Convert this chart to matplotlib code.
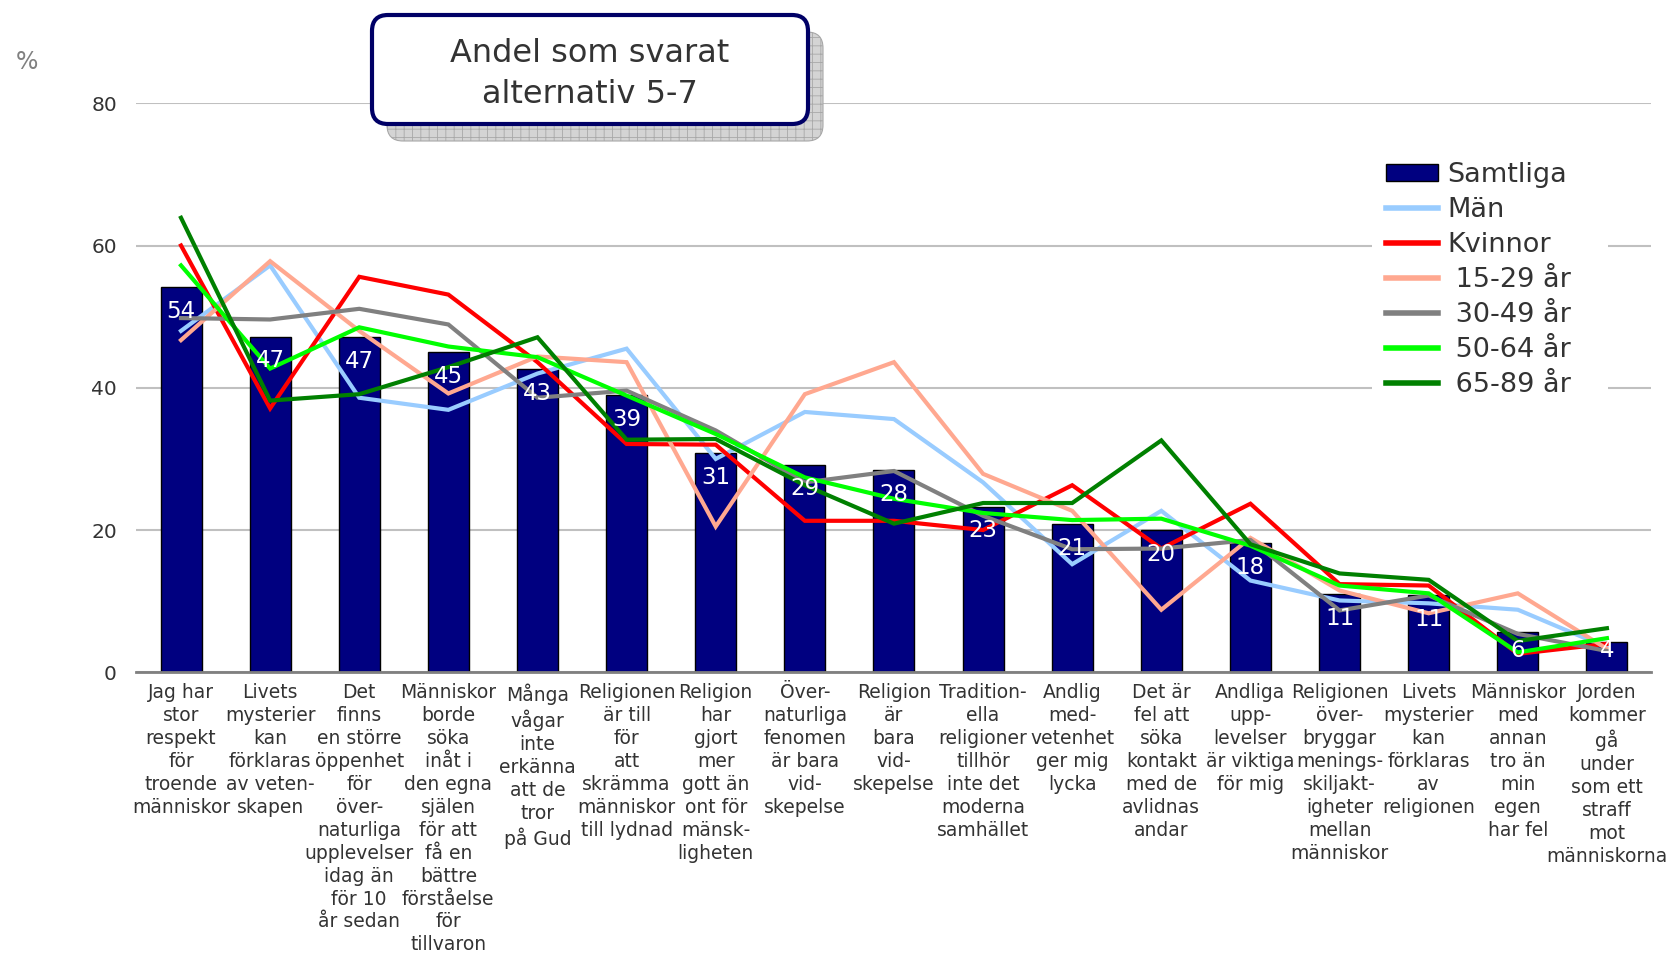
import matplotlib
matplotlib.use("Agg")
import matplotlib.pyplot as plt
from matplotlib.patches import FancyBboxPatch, Rectangle
from matplotlib.lines import Line2D
import numpy as np

# Påståenden (x-axelns kategorier)
kategorier = [
    "Jag har\nstor\nrespekt\nför\ntroende\nmänniskor",
    "Livets\nmysterier\nkan\nförklaras\nav veten-\nskapen",
    "Det\nfinns\nen större\nöppenhet\nför\növer-\nnaturliga\nupplevelser\nidag än\nför 10\når sedan",
    "Människor\nborde\nsöka\ninåt i\nden egna\nsjälen\nför att\nfå en\nbättre\nförståelse\nför\ntillvaron",
    "Många\nvågar\ninte\nerkänna\natt de\ntror\npå Gud",
    "Religionen\när till\nför\natt\nskrämma\nmänniskor\ntill lydnad",
    "Religion\nhar\ngjort\nmer\ngott än\nont för\nmänsk-\nligheten",
    "Över-\nnaturliga\nfenomen\när bara\nvid-\nskepelse",
    "Religion\när\nbara\nvid-\nskepelse",
    "Tradition-\nella\nreligioner\ntillhör\ninte det\nmoderna\nsamhället",
    "Andlig\nmed-\nvetenhet\nger mig\nlycka",
    "Det är\nfel att\nsöka\nkontakt\nmed de\navlidnas\nandar",
    "Andliga\nupp-\nlevelser\när viktiga\nför mig",
    "Religionen\növer-\nbryggar\nmenings-\nskiljakt-\nigheter\nmellan\nmänniskor",
    "Livets\nmysterier\nkan\nförklaras\nav\nreligionen",
    "Människor\nmed\nannan\ntro än\nmin\negen\nhar fel",
    "Jorden\nkommer\ngå\nunder\nsom ett\nstraff\nmot\nmänniskorna",
]

# Andel (%) som svarat alternativ 5-7
samtliga = [54.1, 47.2, 47.1, 45.0, 42.6, 39.0, 30.8, 29.2, 28.4, 23.3, 20.8, 20.0, 18.2, 11.0, 10.8, 5.7, 4.2]
man      = [48.0, 57.2, 38.6, 36.9, 42.0, 45.5, 30.0, 36.6, 35.6, 26.7, 15.2, 22.7, 12.9, 10.1, 9.7, 8.8, 3.5]
kvinnor  = [60.0, 37.1, 55.6, 53.1, 43.6, 32.1, 32.0, 21.3, 21.3, 20.0, 26.3, 17.4, 23.7, 12.4, 12.2, 2.6, 4.0]
ar_15_29 = [46.7, 57.8, 48.0, 39.2, 44.4, 43.6, 20.5, 39.1, 43.6, 27.9, 22.7, 8.8, 18.9, 11.5, 8.3, 11.1, 3.3]
ar_30_49 = [49.8, 49.6, 51.1, 48.9, 38.6, 39.6, 34.0, 26.7, 28.3, 22.0, 17.3, 17.4, 18.6, 8.7, 10.8, 5.4, 3.0]
ar_50_64 = [57.2, 42.7, 48.5, 45.8, 44.3, 38.9, 33.5, 27.4, 24.4, 22.4, 21.4, 21.6, 17.8, 12.2, 11.1, 2.8, 4.8]
ar_65_89 = [63.9, 38.2, 39.1, 42.9, 47.1, 32.7, 32.8, 26.3, 20.9, 23.8, 23.8, 32.6, 18.0, 13.9, 13.0, 4.4, 6.2]

serier = [
    ("Män", man, "#99CCFF"),
    ("Kvinnor", kvinnor, "#FF0000"),
    (" 15-29 år", ar_15_29, "#FFA890"),
    (" 30-49 år", ar_30_49, "#808080"),
    (" 50-64 år", ar_50_64, "#00FF00"),
    (" 65-89 år", ar_65_89, "#008000"),
]
yticks = [0, 20, 40, 60, 80]

plt.rcParams["font.family"] = "DejaVu Sans"
plt.rcParams["hatch.linewidth"] = 0.6

fig = plt.figure(figsize=(16.68, 9.55), dpi=100)
ax = fig.add_axes([0.0818, 0.2960, 0.9083, 0.5959])

x = np.arange(len(kategorier))
ax.bar(x, samtliga, width=0.46, color="#000080", edgecolor="black", linewidth=1, zorder=2)

for namn, vals, farg in serier:
    ax.plot(x, vals, color=farg, lw=3, zorder=3, solid_joinstyle="miter")

# värden inuti staplarna
for xi, v in zip(x, samtliga):
    ax.text(xi, max(v - 3.4, 3.0), f"{v:.0f}", color="white", ha="center", va="center",
            fontsize=16.5, zorder=5)

ax.set_xlim(-0.5, len(kategorier) - 0.5)
ax.set_ylim(0, 80)
ax.set_yticks(yticks)
ax.set_yticklabels([str(t) for t in yticks], fontsize=14.5, color="#333333")
ax.yaxis.grid(True, color="#C0C0C0", lw=1.5)
ax.set_axisbelow(True)
ax.tick_params(axis="y", length=0, pad=14)
ax.set_xticks(x)
ax.set_xticklabels(kategorier, fontsize=13.5, color="#333333", linespacing=1.26)
ax.tick_params(axis="x", length=0, pad=8)
for s in ["left", "right", "top"]:
    ax.spines[s].set_visible(False)
ax.spines["bottom"].set_color("#808080")
ax.spines["bottom"].set_linewidth(2)

fig.text(27 / 1668, 1 - 62 / 955, "%", fontsize=17, color="#808080", ha="center", va="center")

# rubrikruta med skugga
inch = fig.dpi_scale_trans
skugga = FancyBboxPatch((3.87, 8.14), 4.36, 1.09, boxstyle="round,pad=0,rounding_size=0.16",
                        transform=inch, facecolor="#D4D4D4", edgecolor="#A8A8A8", hatch="++",
                        lw=0.8, zorder=9)
ruta = FancyBboxPatch((3.72, 8.31), 4.36, 1.09, boxstyle="round,pad=0,rounding_size=0.16",
                      transform=inch, facecolor="white", edgecolor="#000066", lw=3, zorder=10)
fig.patches.extend([skugga, ruta])
fig.text(5.90 / 16.68, 8.81 / 9.55, "Andel som svarat\nalternativ 5-7", fontsize=23,
         color="#333333", ha="center", va="center", linespacing=1.38, zorder=11)

# vit bakgrund bakom förklaringen
ax.add_patch(Rectangle((1372 / 1668, 1 - 398 / 955), 236 / 1668, 250 / 955,
                       transform=fig.transFigure, facecolor="white", edgecolor="none", zorder=1))

handles = [Rectangle((0, 0), 1, 1, facecolor="#000080", edgecolor="black", lw=1)]
labels = ["Samtliga"]
for namn, vals, farg in serier:
    handles.append(Line2D([], [], color=farg, lw=4))
    labels.append(namn)
leg = ax.legend(handles, labels, loc="upper left", bbox_to_anchor=(1386 / 1668, 1 - 162 / 955),
                bbox_transform=fig.transFigure, frameon=False, fontsize=19.5, handlelength=1.92,
                handleheight=0.6, handletextpad=0.33, labelspacing=0.33, borderpad=0,
                borderaxespad=0)
for t in leg.get_texts():
    t.set_color("#333333")

fig.savefig("out.png", dpi=100)
